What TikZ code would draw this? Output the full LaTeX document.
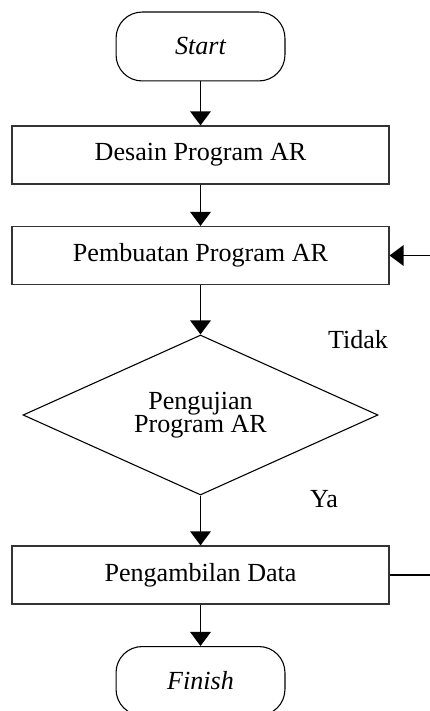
\documentclass[tikz,border=0pt]{standalone}
\usepackage{fontspec}
\setmainfont{Liberation Serif}
\usetikzlibrary{shapes.geometric,arrows.meta}

\begin{document}
\begin{tikzpicture}[x=0.46pt, y=-0.46pt,
    % Define styles
    terminal/.style={rectangle, rounded corners=12pt, draw=black, line width=0.5pt, minimum width=77.7pt, minimum height=31.7pt, text centered, font=\fontsize{12}{14}\selectfont\itshape},
    proses/.style={rectangle, draw=black!80, line width=0.5pt, minimum width=173.4pt, minimum height=26.7pt, text centered, font=\fontsize{12}{14}\selectfont},
    keputusan/.style={diamond, aspect=2.2, draw=black, line width=0.5pt, minimum width=163.3pt, minimum height=73.6pt, inner sep=0pt, align=center, font=\fontsize{12}{10.6}\selectfont},
    label/.style={font=\fontsize{12}{14}\selectfont},
    panah/.style={-{Triangle[width=9.5pt, length=6.5pt]}, line width=0.7pt}
]
\useasboundingbox (0,0) rectangle (430,711);

% Flowchart nodes
\node[terminal] (start) at (200.5, 46.5) {Start};
\node[proses] (desain) at (200.5, 155) {Desain Program AR};
\node[proses] (pembuatan) at (200.5, 255.5) {Pembuatan Program AR};
\node[keputusan] (pengujian) at (200.5, 415) {Pengujian\\Program AR};
\node[proses] (pengambilan) at (200.5, 575) {Pengambilan Data};
\node[terminal] (finish) at (200.5, 681) {Finish};

% Labels
\node[label] (tidak) at (358, 340) {Tidak};
\node[label] (ya) at (324, 499) {Ya};

% Flow connections
\draw[panah] (start) -- (desain);
\draw[panah] (desain) -- (pembuatan);
\draw[panah] (pembuatan) -- (pengujian);
\draw[panah] (pengujian) -- (pengambilan);
\draw[panah] (pengambilan) -- (finish);

% Feedback loop
\draw[panah] (pengambilan.east) -- ++(46,0) |- (pembuatan.east);

\end{tikzpicture}
\end{document}
